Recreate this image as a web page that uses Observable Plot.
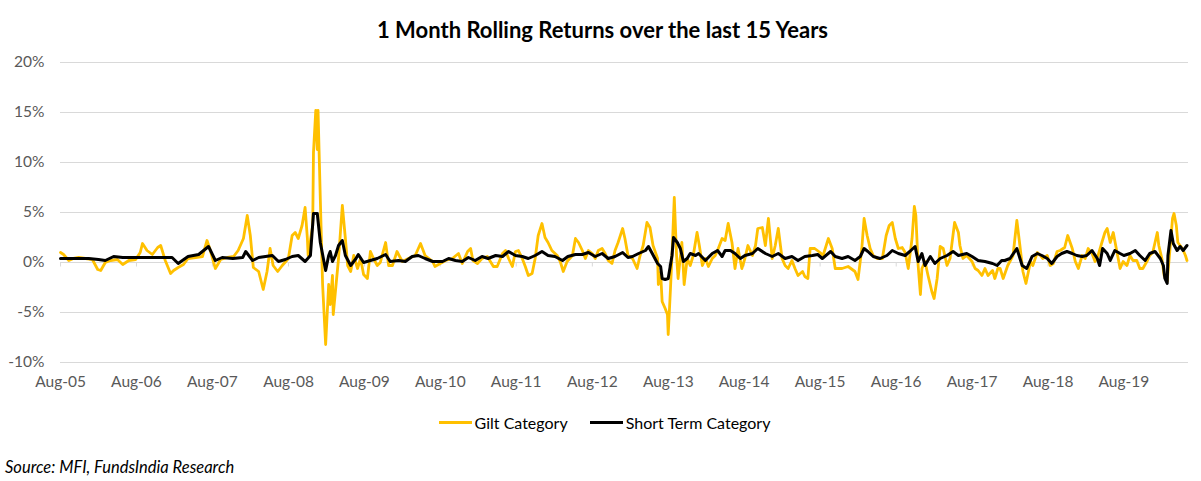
<!DOCTYPE html>
<html>
<head>
<meta charset="utf-8">
<script src="https://cdn.jsdelivr.net/npm/d3@7"></script>
<script src="https://cdn.jsdelivr.net/npm/@observablehq/plot@0.6"></script>
<style>
  html, body { margin: 0; padding: 0; background: #fff; }
  body { width: 1201px; height: 481px; overflow: hidden; position: relative; font-family: Lato, "Open Sans", "Liberation Sans", sans-serif; }
  #title { position: absolute; top: 16px; left: 2px; width: 1201px; text-align: center; font-weight: bold; font-size: 22px; color: #000; }
  #chart { position: absolute; top: 50px; left: 0; }
  #legend { position: absolute; top: 413px; left: 4px; width: 1201px; display: flex; justify-content: center; align-items: center; font-size: 16px; color: #000; }
  .item { display: flex; align-items: center; margin: 0 11px; }
  .sw { display: inline-block; width: 33px; height: 0; border-top: 3px solid; margin-right: 3px; }
  #caption { position: absolute; left: 5px; top: 457px; font-style: italic; font-size: 16.5px; color: #000; }
</style>
</head>
<body>
<div id="title"></div>
<div id="chart"></div>
<div id="legend"></div>
<div id="caption"></div>
<script>
const titleText = "1 Month Rolling Returns over the last 15 Years";
const captionText = "Source: MFI, FundsIndia Research";
const seriesNames = ["Gilt Category", "Short Term Category"];
const seriesColors = ["#FFC000", "#000000"];
const yTicks = [-10, -5, 0, 5, 10, 15, 20];
const xTicks = ["2005-08-01","2006-08-01","2007-08-01","2008-08-01","2009-08-01","2010-08-01","2011-08-01","2012-08-01","2013-08-01","2014-08-01","2015-08-01","2016-08-01","2017-08-01","2018-08-01","2019-08-01"];
const xDomain = [2005.58, 2020.43];

// [decimal year, % return]
const giltPoints = [[2005.58,1.0],[2005.62,0.8],[2005.69,0.2],[2005.75,0.4],[2005.82,0.5],[2005.91,0.4],[2006.00,0.3],[2006.07,-0.7],[2006.11,-0.8],[2006.17,0.0],[2006.24,0.2],[2006.33,0.3],[2006.40,-0.2],[2006.48,0.2],[2006.57,0.3],[2006.63,1.0],[2006.66,1.9],[2006.72,1.2],[2006.79,0.8],[2006.86,1.5],[2006.90,1.7],[2006.96,0.2],[2007.03,-1.1],[2007.07,-0.8],[2007.13,-0.5],[2007.20,-0.2],[2007.26,0.4],[2007.36,0.5],[2007.45,0.6],[2007.51,2.2],[2007.55,1.3],[2007.62,-0.6],[2007.69,0.3],[2007.78,0.5],[2007.86,0.6],[2007.92,1.2],[2007.99,2.4],[2008.04,4.7],[2008.08,2.7],[2008.12,-0.5],[2008.19,-0.9],[2008.25,-2.7],[2008.30,-0.9],[2008.34,1.4],[2008.38,-0.3],[2008.44,-0.9],[2008.50,-0.3],[2008.58,0.4],[2008.63,2.7],[2008.67,3.0],[2008.71,2.4],[2008.76,3.7],[2008.80,5.5],[2008.83,2.4],[2008.84,0.7],[2008.90,3.7],[2008.91,11.0],[2008.94,15.2],[2008.96,11.3],[2008.97,15.2],[2009.00,6.3],[2009.03,-2.2],[2009.07,-8.2],[2009.11,-2.2],[2009.13,-4.2],[2009.16,-1.3],[2009.17,-5.2],[2009.21,-2.0],[2009.24,0.4],[2009.29,5.7],[2009.33,2.4],[2009.36,-0.3],[2009.40,-0.9],[2009.44,0.7],[2009.49,-0.6],[2009.53,0.4],[2009.57,-1.2],[2009.62,-1.6],[2009.66,1.1],[2009.70,0.4],[2009.75,-0.3],[2009.79,0.0],[2009.86,2.0],[2009.90,-0.3],[2009.95,-0.3],[2010.01,1.1],[2010.08,0.1],[2010.16,0.4],[2010.25,0.7],[2010.32,1.9],[2010.38,0.7],[2010.48,0.1],[2010.51,-0.4],[2010.58,-0.1],[2010.65,0.2],[2010.74,0.4],[2010.82,0.9],[2010.87,-0.1],[2010.94,1.1],[2010.98,1.4],[2011.01,0.2],[2011.07,-0.1],[2011.13,0.4],[2011.20,0.6],[2011.24,0.1],[2011.28,-0.4],[2011.33,-0.4],[2011.40,0.9],[2011.44,1.2],[2011.48,0.4],[2011.53,-0.4],[2011.57,1.1],[2011.61,1.2],[2011.66,0.4],[2011.70,-0.4],[2011.74,-1.3],[2011.79,-1.1],[2011.83,0.4],[2011.87,2.7],[2011.92,3.9],[2011.96,2.5],[2012.00,2.0],[2012.05,1.2],[2012.12,0.7],[2012.16,0.1],[2012.20,-0.9],[2012.25,0.1],[2012.32,0.7],[2012.36,2.4],[2012.40,2.0],[2012.45,1.2],[2012.49,0.4],[2012.53,1.2],[2012.58,0.9],[2012.62,0.4],[2012.66,1.2],[2012.71,1.4],[2012.75,0.9],[2012.79,0.2],[2012.84,-0.1],[2012.88,1.2],[2012.92,2.0],[2012.98,3.4],[2013.01,2.4],[2013.05,0.7],[2013.11,0.4],[2013.17,-0.6],[2013.21,0.7],[2013.25,1.7],[2013.30,4.0],[2013.34,3.5],[2013.38,1.7],[2013.44,0.4],[2013.45,-2.2],[2013.48,-1.0],[2013.50,-3.9],[2013.54,-4.6],[2013.57,-5.2],[2013.58,-7.2],[2013.61,-2.6],[2013.63,0.7],[2013.66,6.5],[2013.69,0.7],[2013.71,-1.6],[2013.76,2.0],[2013.79,-2.2],[2013.83,0.4],[2013.87,-0.3],[2013.91,0.7],[2013.96,3.0],[2013.99,1.7],[2014.03,-0.3],[2014.07,0.4],[2014.11,-0.4],[2014.16,0.4],[2014.20,0.7],[2014.24,1.4],[2014.29,2.4],[2014.33,2.2],[2014.37,3.9],[2014.42,2.0],[2014.46,-0.6],[2014.50,1.4],[2014.55,-0.6],[2014.59,0.4],[2014.63,1.7],[2014.69,0.7],[2014.73,1.7],[2014.76,3.4],[2014.82,3.5],[2014.86,1.7],[2014.90,4.4],[2014.95,0.4],[2014.99,1.7],[2015.03,3.4],[2015.08,0.4],[2015.12,-0.3],[2015.16,-0.6],[2015.21,0.2],[2015.25,-0.6],[2015.29,-1.3],[2015.35,-0.9],[2015.38,-1.4],[2015.42,-1.6],[2015.45,1.4],[2015.51,1.4],[2015.58,1.0],[2015.62,0.7],[2015.69,2.4],[2015.74,1.4],[2015.78,-0.6],[2015.87,-0.6],[2015.95,-0.4],[2016.04,-0.9],[2016.08,-1.7],[2016.13,1.4],[2016.16,4.4],[2016.20,2.7],[2016.24,1.4],[2016.28,0.7],[2016.33,0.4],[2016.40,0.4],[2016.45,2.7],[2016.49,3.7],[2016.53,4.0],[2016.57,2.4],[2016.61,1.4],[2016.66,1.5],[2016.70,1.0],[2016.74,-0.6],[2016.79,2.4],[2016.82,5.6],[2016.84,4.7],[2016.87,-0.3],[2016.90,-3.2],[2016.92,-0.6],[2016.96,0.1],[2017.00,-1.3],[2017.05,-2.9],[2017.08,-3.6],[2017.12,-1.6],[2017.16,1.6],[2017.20,1.4],[2017.25,-0.3],[2017.29,0.4],[2017.35,4.0],[2017.40,3.0],[2017.42,1.7],[2017.46,0.4],[2017.51,0.7],[2017.58,0.1],[2017.62,-0.6],[2017.66,-0.8],[2017.71,-1.3],[2017.75,-0.6],[2017.79,-1.3],[2017.85,-0.8],[2017.88,-1.6],[2017.92,-0.6],[2017.95,-0.6],[2017.99,-1.6],[2018.05,-0.3],[2018.12,0.7],[2018.17,4.2],[2018.21,1.7],[2018.25,-0.9],[2018.29,-2.1],[2018.35,0.1],[2018.38,-0.3],[2018.44,1.0],[2018.48,0.7],[2018.51,0.4],[2018.57,0.7],[2018.61,-0.3],[2018.65,-0.1],[2018.70,1.1],[2018.74,1.2],[2018.80,1.5],[2018.84,2.7],[2018.90,1.4],[2018.94,0.1],[2018.98,-0.6],[2019.03,0.7],[2019.07,0.4],[2019.11,1.4],[2019.16,0.9],[2019.20,0.1],[2019.24,0.7],[2019.29,2.0],[2019.33,3.0],[2019.36,3.4],[2019.40,2.0],[2019.44,3.0],[2019.49,1.0],[2019.53,-0.6],[2019.57,0.1],[2019.62,-0.3],[2019.66,0.7],[2019.70,0.2],[2019.75,0.2],[2019.79,-0.6],[2019.83,-0.6],[2019.89,0.2],[2019.92,0.7],[2019.96,1.0],[2020.02,3.0],[2020.04,1.7],[2020.08,0.4],[2020.11,-1.3],[2020.15,-1.9],[2020.18,0.7],[2020.22,4.4],[2020.24,4.9],[2020.27,3.7],[2020.29,2.0],[2020.35,1.4],[2020.39,0.7],[2020.41,0.2]];

const shortPoints = [[2005.58,0.4],[2005.78,0.4],[2005.95,0.4],[2006.08,0.3],[2006.17,0.2],[2006.28,0.6],[2006.40,0.5],[2006.61,0.5],[2006.83,0.5],[2007.05,0.5],[2007.13,-0.1],[2007.26,0.6],[2007.40,0.8],[2007.53,1.6],[2007.62,0.2],[2007.71,0.5],[2007.85,0.4],[2007.98,0.5],[2008.02,1.1],[2008.11,0.2],[2008.19,0.5],[2008.28,0.6],[2008.37,0.7],[2008.45,0.1],[2008.54,0.3],[2008.63,0.6],[2008.71,0.7],[2008.80,0.1],[2008.87,0.7],[2008.91,4.9],[2008.96,4.9],[2009.00,2.0],[2009.04,0.4],[2009.07,-0.8],[2009.11,0.7],[2009.13,1.1],[2009.16,0.1],[2009.20,0.7],[2009.24,1.7],[2009.29,2.2],[2009.33,0.7],[2009.40,-0.3],[2009.47,0.4],[2009.50,0.8],[2009.57,0.0],[2009.66,0.2],[2009.75,0.4],[2009.86,0.8],[2009.92,0.1],[2010.03,0.2],[2010.12,0.1],[2010.21,0.6],[2010.29,0.7],[2010.38,0.4],[2010.48,0.1],[2010.51,0.1],[2010.61,0.1],[2010.69,0.4],[2010.78,0.2],[2010.87,0.1],[2010.95,0.5],[2011.04,0.2],[2011.13,0.6],[2011.21,0.4],[2011.31,0.7],[2011.40,0.6],[2011.48,1.1],[2011.57,0.7],[2011.66,0.6],[2011.74,0.4],[2011.83,0.7],[2011.92,1.1],[2012.00,0.7],[2012.09,0.6],[2012.19,0.2],[2012.26,0.6],[2012.36,0.8],[2012.45,0.8],[2012.53,1.0],[2012.62,0.6],[2012.71,0.9],[2012.79,0.4],[2012.88,0.6],[2012.98,1.0],[2013.05,0.5],[2013.11,0.6],[2013.19,0.9],[2013.28,1.2],[2013.32,1.6],[2013.37,0.9],[2013.44,-0.1],[2013.48,-0.4],[2013.50,-1.6],[2013.54,-1.7],[2013.58,-1.6],[2013.63,0.7],[2013.65,2.5],[2013.70,2.0],[2013.74,1.4],[2013.78,0.1],[2013.83,0.4],[2013.87,0.9],[2013.94,0.7],[2013.98,0.9],[2014.07,0.2],[2014.16,0.9],[2014.23,1.2],[2014.29,0.6],[2014.33,1.2],[2014.40,1.2],[2014.46,0.9],[2014.53,0.4],[2014.59,0.7],[2014.69,0.9],[2014.76,1.4],[2014.86,0.9],[2014.95,0.6],[2015.03,0.9],[2015.12,0.4],[2015.21,0.6],[2015.29,0.2],[2015.38,0.6],[2015.48,0.7],[2015.55,0.8],[2015.61,0.4],[2015.72,1.1],[2015.78,0.6],[2015.87,0.4],[2015.95,0.6],[2016.04,0.2],[2016.11,0.6],[2016.16,1.4],[2016.21,1.1],[2016.28,0.6],[2016.37,0.4],[2016.46,0.7],[2016.53,1.2],[2016.61,0.9],[2016.70,0.7],[2016.76,1.1],[2016.83,1.6],[2016.87,0.1],[2016.92,0.9],[2016.96,-0.3],[2017.03,0.6],[2017.09,-0.1],[2017.16,0.4],[2017.25,0.7],[2017.33,1.1],[2017.40,0.7],[2017.51,0.9],[2017.58,0.6],[2017.66,0.2],[2017.75,0.1],[2017.85,-0.1],[2017.91,-0.3],[2017.97,0.2],[2018.01,0.2],[2018.08,0.4],[2018.17,1.4],[2018.24,-0.3],[2018.30,-0.6],[2018.37,0.6],[2018.44,0.9],[2018.50,0.7],[2018.57,0.4],[2018.63,-0.1],[2018.70,0.6],[2018.76,0.9],[2018.83,1.1],[2018.90,0.9],[2018.96,0.7],[2019.03,0.6],[2019.09,0.7],[2019.16,1.2],[2019.23,0.4],[2019.26,-0.3],[2019.30,1.4],[2019.36,0.9],[2019.40,0.2],[2019.46,1.2],[2019.53,0.9],[2019.58,0.7],[2019.66,0.9],[2019.73,1.2],[2019.79,0.7],[2019.86,0.2],[2019.92,0.9],[2019.99,1.1],[2020.06,0.4],[2020.10,-0.3],[2020.12,-1.6],[2020.15,-2.1],[2020.16,0.7],[2020.20,3.2],[2020.23,1.9],[2020.28,1.2],[2020.32,1.6],[2020.36,1.2],[2020.41,1.7]];

const toDate = t => {
  const y = Math.floor(t);
  const s = Date.UTC(y, 0, 1), e = Date.UTC(y + 1, 0, 1);
  return new Date(s + (t - y) * (e - s));
};
const toRows = (pts, name) => pts.map(([t, v]) => ({date: toDate(t), value: v, series: name}));
const giltRows = toRows(giltPoints, seriesNames[0]);
const shortRows = toRows(shortPoints, seriesNames[1]);
const xTickDates = xTicks.map(s => new Date(s + "T00:00:00Z"));
const fmt = d3.utcFormat("%b-%y");

document.getElementById("title").textContent = titleText;
document.getElementById("caption").textContent = captionText;
const legend = document.getElementById("legend");
seriesNames.forEach((n, i) => {
  const it = document.createElement("div"); it.className = "item";
  const sw = document.createElement("span"); sw.className = "sw"; sw.style.borderTopColor = seriesColors[i];
  const tx = document.createElement("span"); tx.textContent = n;
  it.appendChild(sw); it.appendChild(tx); legend.appendChild(it);
});

const chart = Plot.plot({
  width: 1201,
  height: 351,
  marginLeft: 60,
  marginRight: 13,
  marginTop: 12,
  marginBottom: 39,
  style: {fontFamily: "Lato, 'Open Sans', sans-serif", fontSize: "15.5px", color: "#595959", background: "white", overflow: "visible"},
  x: {type: "utc", domain: xDomain.map(toDate), label: null},
  y: {domain: [-10, 20], label: null},
  marks: [
    Plot.gridY(yTicks, {stroke: "#d9d9d9", strokeOpacity: 1, strokeWidth: 1}),
    Plot.ruleY([0], {stroke: "#d9d9d9", strokeWidth: 1}),
    Plot.ruleX(xTickDates, {y1: 0, y2: -0.45, stroke: "#d9d9d9"}),
    Plot.axisY(yTicks, {tickSize: 0, tickPadding: 16, tickFormat: d => d + "%", fill: "#595959"}),
    Plot.axisX(xTickDates, {tickSize: 0, tickPadding: 13, tickFormat: fmt, fill: "#595959"}),
    Plot.line(giltRows, {x: "date", y: "value", stroke: seriesColors[0], strokeWidth: 2.8, strokeLinejoin: "round"}),
    Plot.line(shortRows, {x: "date", y: "value", stroke: seriesColors[1], strokeWidth: 3, strokeLinejoin: "round"})
  ]
});
document.getElementById("chart").appendChild(chart);
</script>
</body>
</html>
